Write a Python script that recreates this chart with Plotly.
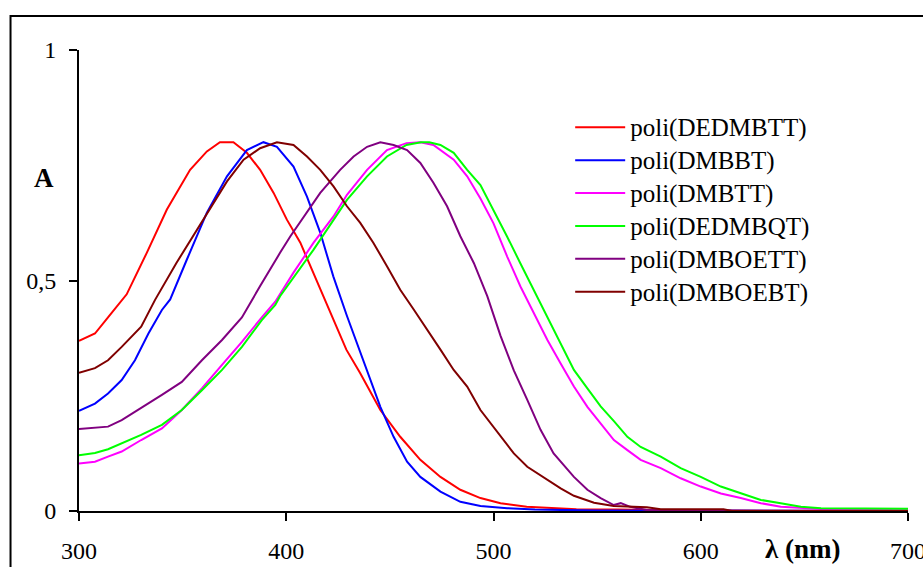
import plotly.graph_objects as go

# ---- data ----
names = ["poli(DEDMBTT)", "poli(DMBBT)", "poli(DMBTT)", "poli(DEDMBQT)", "poli(DMBOETT)", "poli(DMBOEBT)"]
colors = ["#FF0000", "#0000FF", "#FF00FF", "#00FF00", "#800080", "#800000"]

red_x = [300, 307.7, 314, 320.6, 323, 332.7, 342.4, 353.6, 361.7, 368, 374.5, 381, 387.4, 393.9, 400.3,
         406.8, 413, 422.8, 429, 435.7, 445.4, 455, 464.7, 474.4, 484, 493.7, 503.4, 516, 527.5, 540, 560, 600, 700]
red_y = [0.369, 0.385, 0.42, 0.458, 0.47, 0.56, 0.654, 0.74, 0.78, 0.80, 0.80, 0.777, 0.74, 0.69, 0.632,
         0.582, 0.517, 0.416, 0.35, 0.299, 0.219, 0.161, 0.111, 0.074, 0.046, 0.028, 0.017, 0.009, 0.006, 0.004, 0.003, 0.001, 0.0]

blue_x = [300, 307.7, 314, 320.6, 327, 333.5, 340, 344, 352, 361.7, 371.4, 381, 389, 395.5, 403.5, 410,
          416.4, 422.7, 429.3, 435.7, 440, 445.4, 451.8, 458.3, 464.7, 474.4, 484, 493.7, 506.6, 520, 550, 700]
blue_y = [0.217, 0.233, 0.255, 0.284, 0.327, 0.385, 0.436, 0.459, 0.545, 0.647, 0.726, 0.783, 0.80, 0.79, 0.747, 0.682,
          0.604, 0.509, 0.423, 0.344, 0.29, 0.226, 0.161, 0.107, 0.074, 0.042, 0.02, 0.011, 0.006, 0.003, 0.001, 0.0]

mag_x = [300, 307.7, 314, 320.6, 330, 340, 349.6, 359.3, 369, 378.6, 388.2, 394.7, 403.5, 413.2, 422.8, 429.3,
         439, 448.6, 458, 464.7, 471, 480.8, 487.3, 493.7, 500, 506.6, 513, 519.5, 526, 532.4, 538.8, 545.3,
         551.7, 558.1, 564.6, 571, 580.7, 590.3, 600, 609.7, 619.3, 629, 638.6, 648.3, 660, 700]
mag_y = [0.103, 0.107, 0.118, 0.129, 0.154, 0.179, 0.219, 0.266, 0.317, 0.367, 0.42, 0.454, 0.517, 0.582, 0.639, 0.686,
         0.74, 0.783, 0.798, 0.80, 0.794, 0.762, 0.726, 0.678, 0.624, 0.552, 0.487, 0.429, 0.371, 0.32, 0.27, 0.226,
         0.19, 0.154, 0.132, 0.111, 0.093, 0.071, 0.053, 0.038, 0.028, 0.017, 0.009, 0.006, 0.004, 0.003]

green_x = [300, 307.7, 314, 320.6, 330, 340, 349.6, 359.3, 369, 378.6, 388.2, 394.7, 397, 413.2, 429.3, 439,
           448.6, 458, 465, 469, 474.4, 480.8, 487.3, 493.7, 500, 506.6, 513, 519.5, 526, 532.4, 538.8, 545.3,
           551.7, 558.1, 564.6, 571, 580.7, 590.3, 600, 609.7, 619.3, 629, 638.6, 648.3, 658, 680, 700]
green_y = [0.121, 0.126, 0.134, 0.147, 0.165, 0.187, 0.219, 0.262, 0.306, 0.356, 0.414, 0.447, 0.466, 0.567, 0.675, 0.726,
           0.769, 0.794, 0.80, 0.80, 0.794, 0.777, 0.74, 0.707, 0.653, 0.595, 0.537, 0.479, 0.421, 0.364, 0.306, 0.266,
           0.227, 0.195, 0.161, 0.139, 0.118, 0.093, 0.074, 0.053, 0.038, 0.024, 0.017, 0.009, 0.006, 0.005, 0.005]

purple_x = [300, 314, 320.6, 330, 340, 349.6, 359.3, 369, 378.6, 387.4, 393.9, 397, 402, 410, 416.4, 426,
            432.5, 439, 445.4, 451.8, 458.3, 464.7, 471, 477.6, 484, 490.5, 497, 503.4, 509.8, 516.3, 522.7,
            529, 535.6, 538.8, 545.3, 551.7, 558, 561.4, 566, 574, 600, 700]
purple_y = [0.178, 0.183, 0.197, 0.223, 0.252, 0.28, 0.327, 0.371, 0.42, 0.488, 0.538, 0.56, 0.596, 0.647, 0.69, 0.74,
            0.769, 0.79, 0.80, 0.794, 0.783, 0.755, 0.712, 0.661, 0.596, 0.538, 0.466, 0.38, 0.305, 0.241, 0.176,
            0.125, 0.09, 0.074, 0.046, 0.028, 0.013, 0.017, 0.009, 0.002, 0.001, 0.0]

brown_x = [300, 307.7, 314, 320.6, 330, 336.7, 347, 355, 363, 371.4, 379.4, 387.4, 395.5, 403.5, 410, 416.4,
           422.8, 429.3, 435.7, 442, 448.6, 455, 461.5, 468, 474.4, 480.8, 487.3, 493.7, 503.4, 509.8, 516.3,
           526, 532.4, 538.8, 548.5, 558, 574, 580.7, 611, 615, 700]
brown_y = [0.30, 0.31, 0.327, 0.356, 0.40, 0.458, 0.538, 0.596, 0.654, 0.715, 0.762, 0.787, 0.80, 0.794, 0.769, 0.74,
           0.704, 0.661, 0.625, 0.582, 0.531, 0.48, 0.437, 0.394, 0.35, 0.306, 0.27, 0.219, 0.161, 0.125, 0.096,
           0.067, 0.049, 0.033, 0.018, 0.011, 0.008, 0.004, 0.004, 0.0, 0.0]

series_x = [red_x, blue_x, mag_x, green_x, purple_x, brown_x]
series_y = [red_y, blue_y, mag_y, green_y, purple_y, brown_y]

x_ticks = [300, 400, 500, 600, 700]
y_ticks = [0, 0.5, 1]
y_ticktext = ["0", "0,5", "1"]

SERIF = "Liberation Serif, Times New Roman, serif"

fig = go.Figure()
for n, c, xs, ys in zip(names, colors, series_x, series_y):
    fig.add_trace(go.Scatter(x=xs, y=ys, mode="lines",
                             name='<span style="font-size:25px">' + n + '</span>',
                             line=dict(color=c, width=2)))

axis_common = dict(showline=True, linecolor="black", linewidth=2, ticks="outside",
                   ticklen=8, tickwidth=2, tickcolor="black", showgrid=False, zeroline=False,
                   automargin=False, ticklabeloverflow="allow",
                   tickfont=dict(family=SERIF, size=24, color="black"))

fig.update_layout(
    width=923, height=567,
    margin=dict(l=79, r=15, t=50, b=56),
    paper_bgcolor="white", plot_bgcolor="white",
    xaxis=dict(range=[300, 700], tickvals=x_ticks, ticklabelstandoff=9, **axis_common),
    yaxis=dict(range=[0, 1], tickvals=y_ticks, ticktext=y_ticktext, ticklabelstandoff=8, **axis_common),
    legend=dict(x=0.5925, y=0.879, xanchor="left", yanchor="top", bgcolor="rgba(0,0,0,0)",
                font=dict(family=SERIF, size=23, color="black"), itemwidth=50),
    showlegend=True,
    annotations=[
        dict(text="<b>A</b>", xref="paper", yref="paper", x=-0.0422, y=0.7223,
             xanchor="center", yanchor="middle", showarrow=False,
             font=dict(family=SERIF, size=27, color="black")),
        dict(text="<b>λ (nm)</b>", xref="paper", yref="paper", x=0.8733, y=-0.0824,
             xanchor="center", yanchor="middle", showarrow=False,
             font=dict(family=SERIF, size=27, color="black")),
    ],
    shapes=[dict(type="rect", xref="paper", yref="paper", x0=-0.0826, x1=1.2, y0=-0.4, y1=1.0738,
                 line=dict(color="black", width=2), fillcolor="rgba(0,0,0,0)", layer="below")],
)

fig.write_html("out.html", config={"displayModeBar": False},
               post_script="document.body.style.margin='0';document.body.style.overflow='hidden';")
